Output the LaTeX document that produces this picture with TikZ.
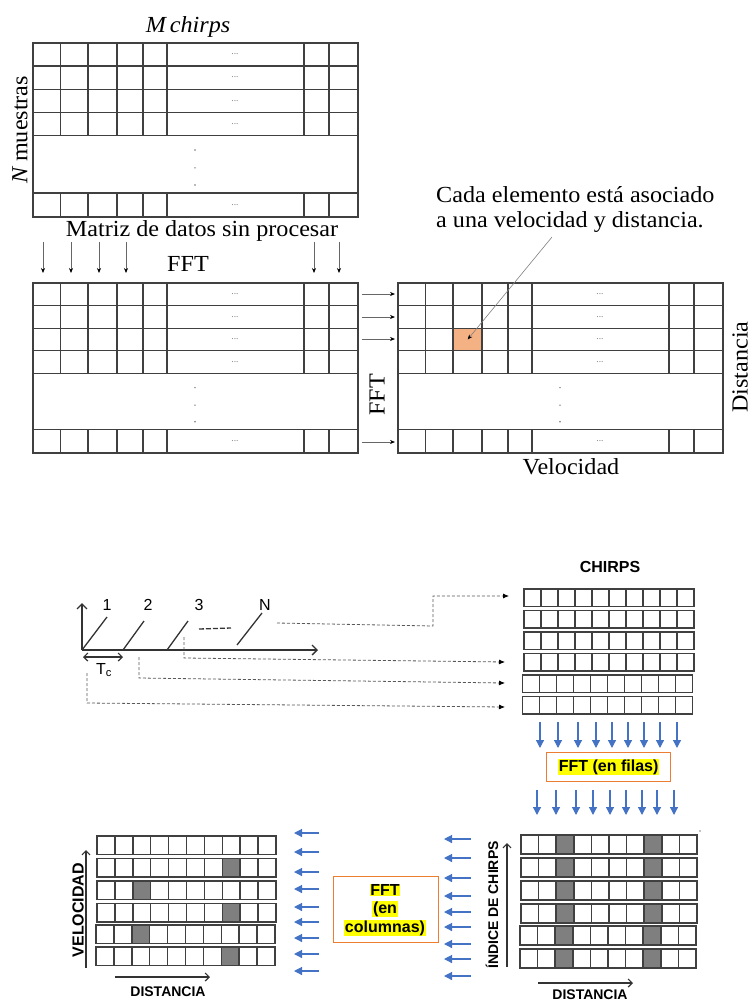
\documentclass[tikz,border=0pt]{standalone}
\usepackage{fontspec}
\setmainfont{Liberation Serif}
\newfontfamily\figserif[FakeStretch=1.05]{Liberation Serif}
\newfontfamily\figsans{Liberation Sans}
\usetikzlibrary{arrows.meta}

\definecolor{gridgray}{HTML}{404040}
\definecolor{cellorange}{HTML}{F4B183}
\definecolor{boxorange}{HTML}{ED7D31}
\definecolor{arrowblue}{HTML}{4472C4}
\definecolor{hiyellow}{HTML}{FFFF00}
\definecolor{peakgray}{HTML}{7F7F7F}

\tikzset{
  matbox/.style={draw=gridgray, line width=1.1pt, inner sep=0pt, outer sep=0pt,
    minimum width=325pt, anchor=north west},
  gridline/.style={draw=gridgray, line width=1.1pt},
  rmlabel/.style={font=\figserif\fontsize{23}{25}\selectfont, inner sep=0pt},
  ellip/.style={font=\figserif\fontsize{9}{9}\selectfont, text=black!55, inner sep=0pt},
  fftarrow/.style={draw=black!60, line width=0.7pt, -{Stealth[length=5pt,width=4pt,color=black]}},
  notearrow/.style={draw=black!50, line width=0.6pt, -{Stealth[length=5pt,width=4pt,color=black]}},
  sanslabel/.style={font=\figsans\fontsize{16}{18}\selectfont, inner sep=0pt},
  sansbold/.style={font=\figsans\bfseries\fontsize{16}{18}\selectfont, inner sep=0pt},
  axislabel/.style={font=\figsans\bfseries\fontsize{14}{16}\selectfont, inner sep=0pt},
  hilite/.style={sansbold, fill=hiyellow, inner sep=0.6pt},
  fftbox/.style={draw=boxorange, line width=1.2pt, inner sep=0pt, anchor=north west},
  bluearrow/.style={draw=arrowblue, line width=1.2pt, -{Triangle[length=8pt,width=8pt]}},
  cellline/.style={draw=black!75, line width=1.5pt},
  axisarrow/.style={draw=black!80, line width=1.2pt, -{Straight Barb[length=4pt,width=8pt]}},
  chirpline/.style={draw=black!80, line width=1.3pt},
  dashlink/.style={draw=black!65, line width=0.8pt, dash pattern=on 3pt off 2pt,
    -{Latex[length=6pt,width=5pt,color=black]}},
}

% raw data matrix: name, left, top, height
\newcommand\rawmatrix[4]{%
  \node[matbox, minimum height=#4pt] (#1) at (#2,#3) {};
  \foreach \fr in {0.132,0.265,0.397,0.53,0.862}
    \draw[gridline] ({#2},{#3+#4*\fr}) -- ({#2+325},{#3+#4*\fr});
  \foreach \cx in {27.5,55,84,110,134,271,296}{
    \draw[gridline] ({#2+\cx},{#3}) -- ({#2+\cx},{#3+#4*0.53});
    \draw[gridline] ({#2+\cx},{#3+#4*0.862}) -- ({#2+\cx},{#3+#4});
  }
  \foreach \fr in {0.066,0.198,0.331,0.464,0.931}
    \node[ellip] at ({#2+202},{#3+#4*\fr}) {...};
  \foreach \fr in {0.615,0.718,0.816}
    \fill[black!55] ({#2+162},{#3+#4*\fr}) circle (0.8pt);
}

% one strip of ten cells: left, top, cell width, cell height, shaded cells (-1 = none)
\newcommand\cellstrip[5]{%
  \foreach \k in {#5}{%
    \ifnum\k>-1
      \fill[peakgray] ({#1+\k*#3},{#2}) rectangle ++(#3,#4);
    \fi
  }
  \foreach \k in {0,...,9}
    \draw[cellline] ({#1+\k*#3},{#2}) rectangle ++(#3,#4);
}

\begin{document}
\begin{tikzpicture}[x=1pt,y=-1pt]
\useasboundingbox (0,0) rectangle (752,1002);

% ---------- raw matrix and its FFTs ----------
\rawmatrix{m1}{33}{43}{174}
\node[rmlabel] (mchirps) at (188,27) {\itshape M\kern4pt chirps};
\node[rmlabel, rotate=90] (nmuestras) at (20,130) {{\itshape N} muestras};
\node[rmlabel] (rawlabel) at (202,231) {Matriz de datos sin procesar};

\node[rmlabel] (fftcols) at (188,264) {FFT};
\foreach \x in {43,71,99,126,314,339}
  \draw[fftarrow] (\x,242) -- (\x,273);

\rawmatrix{m2}{33}{283}{170}

\node[fill=cellorange, inner sep=0pt, minimum width=29pt, minimum height=22.5pt,
  anchor=north west] (cell) at (453,328) {};
\rawmatrix{m3}{398}{283}{170}

\foreach \y in {294,317,339,442}
  \draw[fftarrow] (362,\y) -- (395,\y);
\node[rmlabel, rotate=90] (fftrowsA) at (377,395) {FFT};

\node[rmlabel, rotate=90] (distA) at (740,367) {Distancia};
\node[rmlabel] (velA) at (571,467) {Velocidad};

\node[rmlabel, align=left, anchor=west] (note) at (436,209)
  {Cada elemento está asociado\\a una velocidad y distancia.};
\coordinate (notefoot) at (552,237);
\draw[notearrow] (notefoot) -- (cell.center);

% ---------- chirp train ----------
\coordinate (o) at (82,650);
\coordinate (yend) at (82,603);
\coordinate (xend) at (318,650);
\draw[chirpline, -{Straight Barb[length=5pt,width=10pt]}] (o) -- (yend);
\draw[chirpline, -{Straight Barb[length=5pt,width=10pt]}] (o) -- (xend);

\draw[chirpline] (82,650) -- (107,617);
\draw[chirpline] (123,650) -- (144,621);
\draw[chirpline] (167,650) -- (188,621);
\draw[chirpline] (237,645) -- (262,613);
\draw[chirpline, dash pattern=on 5pt off 2pt] (199,629) -- (231,628);

\node[sanslabel] (c1) at (107,605) {1};
\node[sanslabel] (c2) at (148,605) {2};
\node[sanslabel] (c3) at (199,605) {3};
\node[sanslabel] (cN) at (265,605) {N};

\draw[draw=black!80, line width=1.2pt,
  {Straight Barb[length=4pt,width=8pt]}-{Straight Barb[length=4pt,width=8pt]}]
  (83,657) -- (123,657);
\node[sanslabel] (tc) at (104,670) {T\textsubscript{c}};

% ---------- chirp matrix ----------
\node[sansbold] (chirps) at (610,567) {CHIRPS};
\cellstrip{524}{589}{17}{17.6}{-1}
\cellstrip{524}{610.5}{17}{17.6}{-1}
\cellstrip{524}{632}{17}{17.6}{-1}
\cellstrip{524}{653.5}{17}{17.6}{-1}
\cellstrip{522.5}{675}{17}{17.6}{-1}
\cellstrip{522.5}{696.5}{17}{17.6}{-1}

\coordinate (rowA) at (509,596);
\coordinate (rowD) at (505,662);
\coordinate (rowE) at (505,683);
\coordinate (rowF) at (505,707);
\draw[dashlink] (277,623) -- (433,626) -- (433,596) -- (rowA);
\draw[dashlink] (184,637) -- (184,658) -- (rowD);
\draw[dashlink] (139,657) -- (139,678) -- (rowE);
\draw[dashlink] (87,673) -- (87,703) -- (rowF);

% ---------- FFT over rows ----------
\foreach \x in {540,558,578,596,612,628,644,660,677}
  \draw[bluearrow] (\x,722) -- (\x,748);
\node[fftbox, minimum width=124pt, minimum height=29pt] (rowbox) at (546,752) {};
\node[hilite] (rowtext) at (rowbox.center) {FFT (en filas)};
\foreach \x in {537,556,576,593,610,626,642,657,674}
  \draw[bluearrow] (\x,790) -- (\x,815);

% ---------- range matrix ----------
\cellstrip{521}{835}{17.6}{19}{2,7}
\cellstrip{521}{858}{17.6}{19}{2,7}
\cellstrip{521}{881}{17.6}{19}{2,7}
\cellstrip{521}{904}{17.6}{19}{2,7}
\cellstrip{520}{926}{17.6}{19}{2,7}
\cellstrip{520}{949}{17.6}{19}{2,7}
\fill[black] (700,831) circle (0.7pt);

\coordinate (ry0) at (507,967);
\coordinate (ry1) at (507,843);
\draw[axisarrow] (ry0) -- (ry1);
\node[axislabel, rotate=90] (chirpidx) at (492,905) {ÍNDICE DE CHIRPS};
\coordinate (rx0) at (538,983);
\coordinate (rx1) at (633,983);
\draw[axisarrow] (rx0) -- (rx1);
\node[axislabel] (distR) at (590,995) {DISTANCIA};

% ---------- FFT over columns ----------
\foreach \y in {839,858,878,896,912,927,944,959,976}
  \draw[bluearrow] (471,\y) -- (444,\y);
\node[fftbox, minimum width=105pt, minimum height=66pt] (colbox) at (333,876) {};
\node[hilite] (colt1) at (385,890) {FFT};
\node[hilite] (colt2) at (385,909) {(en};
\node[hilite] (colt3) at (385,928) {columnas)};
\foreach \y in {833,852,872,889,907,922,938,954,971}
  \draw[bluearrow] (319,\y) -- (294,\y);

% ---------- range-Doppler matrix ----------
\cellstrip{97}{836}{17.9}{18.6}{-1}
\cellstrip{97}{858.5}{17.9}{18.6}{7}
\cellstrip{97}{881}{17.9}{18.6}{2}
\cellstrip{97}{903.5}{17.9}{18.6}{7}
\cellstrip{96}{925}{17.9}{18.6}{2}
\cellstrip{96}{947}{17.9}{18.6}{7}

\coordinate (ly0) at (86,968);
\coordinate (ly1) at (86,850);
\draw[axisarrow] (ly0) -- (ly1);
\node[sansbold, rotate=90] (velB) at (78,910) {VELOCIDAD};
\coordinate (lx0) at (115,977);
\coordinate (lx1) at (210,977);
\draw[axisarrow] (lx0) -- (lx1);
\node[axislabel] (distL) at (168,992) {DISTANCIA};
\end{tikzpicture}
\end{document}
